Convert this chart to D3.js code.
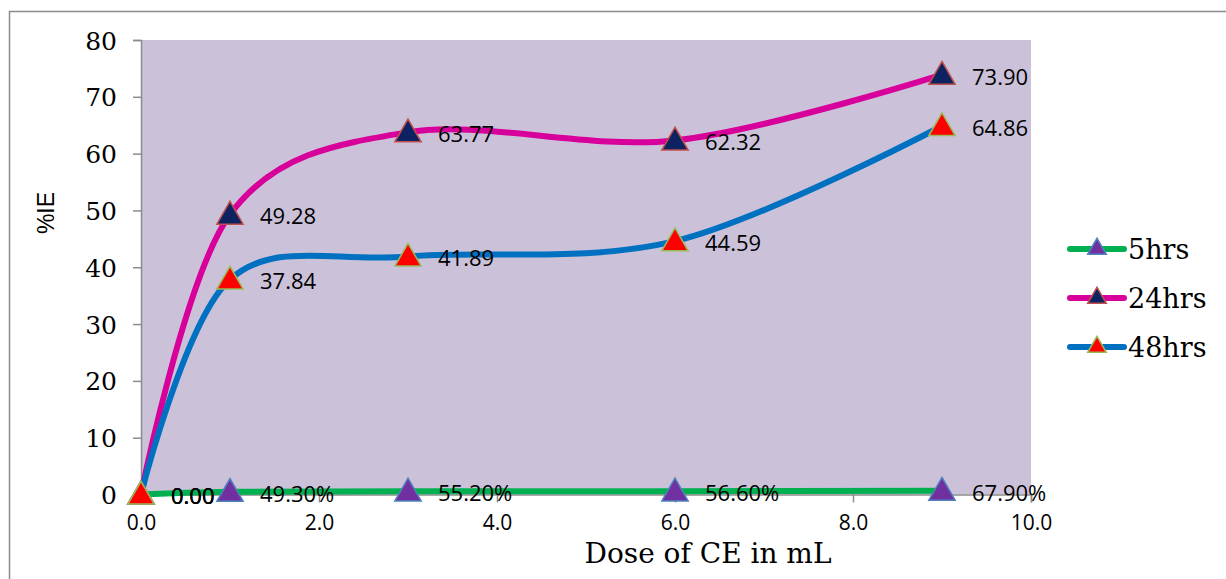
<!DOCTYPE html>
<html><head><meta charset="utf-8">
<script src="https://cdn.jsdelivr.net/npm/d3@7"></script>
<style>body{margin:0;background:#fff}svg{display:block}</style>
</head><body><svg id="c" width="1226" height="579"></svg>
<script>
const doses = [0, 1, 3, 6, 9];
const s5 = [0, 0.493, 0.552, 0.566, 0.679];
const s5Labels = ["0.00", "49.30%", "55.20%", "56.60%", "67.90%"];
const s24 = [0, 49.28, 63.77, 62.32, 73.90];
const s48 = [0, 37.84, 41.89, 44.59, 64.86];
const yTicks = [0, 10, 20, 30, 40, 50, 60, 70, 80];
const xTicks = [0, 2, 4, 6, 8, 10];
const seriesNames = ["5hrs", "24hrs", "48hrs"];

const svg = d3.select("#c");
const L = 141, R = 1031, T = 40, B = 494.5;
const x = d3.scaleLinear().domain([0, 10]).range([L, R]);
const y = d3.scaleLinear().domain([0, 80]).range([B, T]);

// outer border
svg.append("rect").attr("x", 9.5).attr("y", 11.5).attr("width", 1240).attr("height", 600)
  .attr("fill", "#fff").attr("stroke", "#8c8c8c").attr("stroke-width", 1.5);
// plot bg
svg.append("rect").attr("x", L).attr("y", T).attr("width", R - L).attr("height", B - T).attr("fill", "#CBC2DA");

// axes
const yAxis = svg.append("g").attr("transform", `translate(${L},0)`)
  .call(d3.axisLeft(y).tickValues(yTicks).tickSize(8).tickPadding(16).tickFormat(d3.format("d")));
yAxis.select(".domain").attr("stroke", "#8c8c8c").attr("stroke-width", 1.5);
yAxis.selectAll(".tick line").attr("stroke", "#8c8c8c").attr("stroke-width", 1.5);
yAxis.selectAll("text").attr("font-family", "'DejaVu Serif', serif").attr("font-size", 25).attr("fill", "#000").attr("dy", "0.36em");

const xAxis = svg.append("g").attr("transform", `translate(0,${B})`)
  .call(d3.axisBottom(x).tickValues(xTicks).tickSize(8).tickPadding(13).tickFormat(d3.format(".1f")));
xAxis.select(".domain").attr("stroke", "#8c8c8c").attr("stroke-width", 1.5);
xAxis.selectAll(".tick line").attr("stroke", "#8c8c8c").attr("stroke-width", 1.5);
xAxis.selectAll("text").attr("font-family", "'Open Sans', sans-serif").attr("font-size", 21).attr("fill", "#000");

// titles
svg.append("text").attr("x", 708).attr("y", 563).attr("text-anchor", "middle")
  .attr("font-family", "'DejaVu Serif', serif").attr("font-size", 28).text("Dose of CE in mL");
svg.append("text").attr("transform", "translate(54,213) rotate(-90)").attr("text-anchor", "middle")
  .attr("font-family", "'Liberation Sans', sans-serif").attr("font-size", 23).text("%IE");

const series = [
  {name: seriesNames[0], vals: s5, line: "#00B050", fill: "#7030A0", stroke: "#4F81BD", labels: s5Labels},
  {name: seriesNames[1], vals: s24, line: "#D8009A", fill: "#0D2260", stroke: "#C0504D", labels: s24.map(d => d.toFixed(2))},
  {name: seriesNames[2], vals: s48, line: "#0070C0", fill: "#FF0000", stroke: "#9BBB59", labels: s48.map(d => d.toFixed(2))}
];

const line = d3.line().x((d, i) => x(doses[i])).y(d => y(d)).curve(d3.curveCatmullRom.alpha(0));
const tri = d3.symbol().type(d3.symbolTriangle).size(300);

series.forEach(s => {
  svg.append("path").attr("d", line(s.vals)).attr("fill", "none").attr("stroke", s.line)
    .attr("stroke-width", 6).attr("stroke-linecap", "round");
});
series.forEach(s => {
  svg.selectAll(null).data(s.vals).enter().append("path")
    .attr("d", tri).attr("transform", (d, i) => `translate(${x(doses[i])},${y(d) + 2})`)
    .attr("fill", s.fill).attr("stroke", s.stroke).attr("stroke-width", 1.5);
});
series.forEach(s => {
  svg.selectAll(null).data(s.vals).enter().append("text")
    .attr("x", (d, i) => x(doses[i]) + 30).attr("y", d => y(d) + 2).attr("dy", "0.36em")
    .attr("font-family", "'Open Sans', sans-serif").attr("font-size", 22).attr("fill", "#000")
    .text((d, i) => s.labels[i]);
});

// legend
series.forEach((s, i) => {
  const ly = 249 + i * 49;
  svg.append("line").attr("x1", 1070).attr("x2", 1124).attr("y1", ly).attr("y2", ly)
    .attr("stroke", s.line).attr("stroke-width", 6).attr("stroke-linecap", "round");
  svg.append("path").attr("d", d3.symbol().type(d3.symbolTriangle).size(150))
    .attr("transform", `translate(1097,${ly})`).attr("fill", s.fill).attr("stroke", s.stroke).attr("stroke-width", 1.5);
  svg.append("text").attr("x", 1128).attr("y", ly).attr("dy", "0.36em")
    .attr("font-family", "'DejaVu Serif', serif").attr("font-size", 27).text(s.name);
});
</script></body></html>
